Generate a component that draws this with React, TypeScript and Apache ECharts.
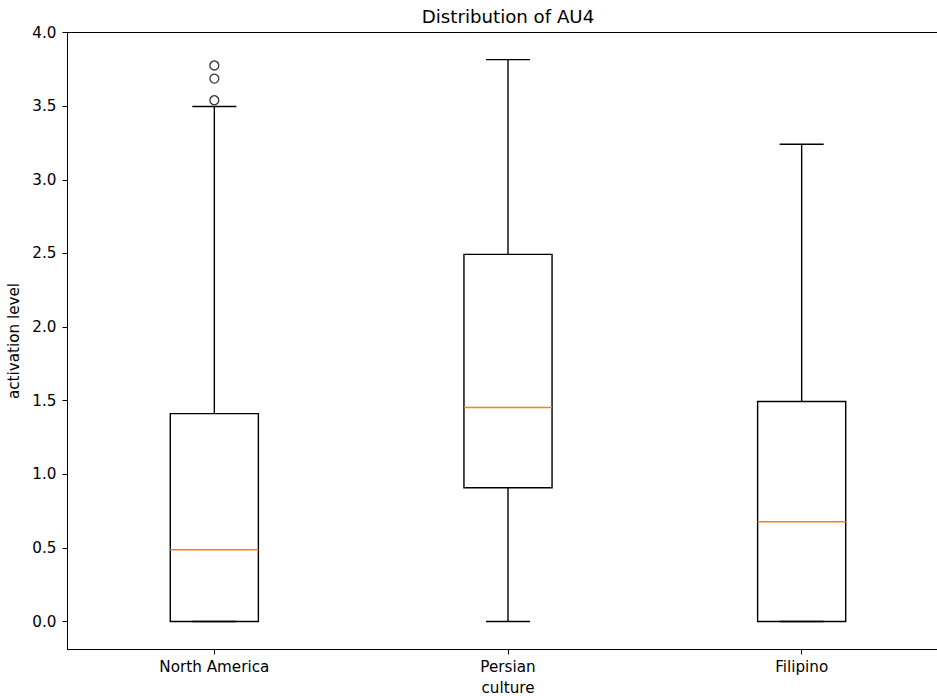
import React, { useEffect, useRef } from "react";
import * as echarts from "echarts";

const categories = ["North America", "Persian", "Filipino"];
// [whiskerLow, q1, median, q3, whiskerHigh]
const boxStats = [
  [0.0, 0.0, 0.487, 1.412, 3.497],
  [0.0, 0.908, 1.453, 2.493, 3.816],
  [0.0, 0.0, 0.678, 1.494, 3.241],
];
// [categoryIndex, value]
const outliers = [
  [0, 3.776],
  [0, 3.687],
  [0, 3.54],
];
const yTicks = [0, 0.5, 1.0, 1.5, 2.0, 2.5, 3.0, 3.5, 4.0];

const FONT = "DejaVu Sans";

export default function App() {
  const ref = useRef<HTMLDivElement>(null);
  useEffect(() => {
    if (!ref.current) return;
    const chart = echarts.init(ref.current, undefined, { renderer: "svg" });
    const boxData = boxStats.map((s, i) => [i, ...s]);
    chart.setOption({
      animation: false,
      backgroundColor: "#fff",
      graphic: [
        {
          type: "text",
          x: 508,
          y: 16.5,
          style: {
            text: "Distribution of AU4",
            fontFamily: FONT,
            fontSize: 18.2,
            fill: "#000",
            textAlign: "center",
            textVerticalAlign: "middle",
          },
        },
      ],
      grid: {
        left: 67.5,
        top: 32.5,
        width: 881,
        height: 617,
        show: true,
        borderColor: "#000",
        borderWidth: 1,
        containLabel: false,
        outerBoundsMode: "none",
      },
      xAxis: {
        type: "category",
        data: categories,
        boundaryGap: true,
        axisLine: { show: true, onZero: false, lineStyle: { color: "#000", width: 1 } },
        axisTick: { show: true, alignWithLabel: true, length: 5, lineStyle: { color: "#000" } },
        axisLabel: { color: "#000", fontFamily: FONT, fontSize: 15.2, margin: 10 },
        splitLine: { show: false },
        name: "culture",
        nameLocation: "middle",
        nameGap: 31,
        nameTextStyle: { color: "#000", fontFamily: FONT, fontSize: 15.2 },
      },
      yAxis: {
        type: "value",
        min: -0.19,
        max: 4.0,
        axisLine: { show: true, onZero: false, lineStyle: { color: "#000", width: 1 } },
        axisTick: { show: true, length: 5, customValues: yTicks, lineStyle: { color: "#000" } },
        axisLabel: {
          color: "#000",
          fontFamily: FONT,
          fontSize: 15.2,
          margin: 11,
          customValues: yTicks,
          formatter: (v: number) => v.toFixed(1),
        },
        splitLine: { show: false },
        name: "activation level",
        nameLocation: "middle",
        nameRotate: 90,
        nameGap: 41.5,
        nameTextStyle: { color: "#000", fontFamily: FONT, fontSize: 15.2 },
      },
      series: [
        {
          type: "custom",
          data: boxData,
          encode: { x: 0, y: [1, 2, 3, 4, 5] },
          renderItem: (params: any, api: any) => {
            const x = api.value(0);
            const lo = api.coord([x, api.value(1)]);
            const q1 = api.coord([x, api.value(2)]);
            const med = api.coord([x, api.value(3)]);
            const q3 = api.coord([x, api.value(4)]);
            const hi = api.coord([x, api.value(5)]);
            const band = api.size([1, 0])[0];
            const bw = band * 0.15;
            const cw = band * 0.075;
            const cx = lo[0];
            const ls = { stroke: "#000", lineWidth: 1.4, fill: null };
            return {
              type: "group",
              children: [
                { type: "line", shape: { x1: cx, y1: q1[1], x2: cx, y2: lo[1] }, style: ls },
                { type: "line", shape: { x1: cx, y1: q3[1], x2: cx, y2: hi[1] }, style: ls },
                { type: "line", shape: { x1: cx - cw, y1: lo[1], x2: cx + cw, y2: lo[1] }, style: ls },
                { type: "line", shape: { x1: cx - cw, y1: hi[1], x2: cx + cw, y2: hi[1] }, style: ls },
                {
                  type: "rect",
                  shape: { x: cx - bw, y: q3[1], width: bw * 2, height: q1[1] - q3[1] },
                  style: { stroke: "#000", lineWidth: 1.4, fill: "rgba(0,0,0,0)" },
                },
                {
                  type: "line",
                  shape: { x1: cx - bw, y1: med[1], x2: cx + bw, y2: med[1] },
                  style: { stroke: "#ff7f0e", lineWidth: 1.4 },
                },
              ],
            };
          },
          z: 2,
        },
        {
          type: "scatter",
          data: outliers,
          symbol: "circle",
          symbolSize: 9,
          itemStyle: { color: "rgba(0,0,0,0)", borderColor: "#000", borderWidth: 1.3 },
          z: 3,
        },
      ],
    });
    return () => chart.dispose();
  }, []);
  return (
    <div
      ref={ref}
      style={{ position: "fixed", left: 0, top: 0, width: 937, height: 696, background: "#fff" }}
    />
  );
}
